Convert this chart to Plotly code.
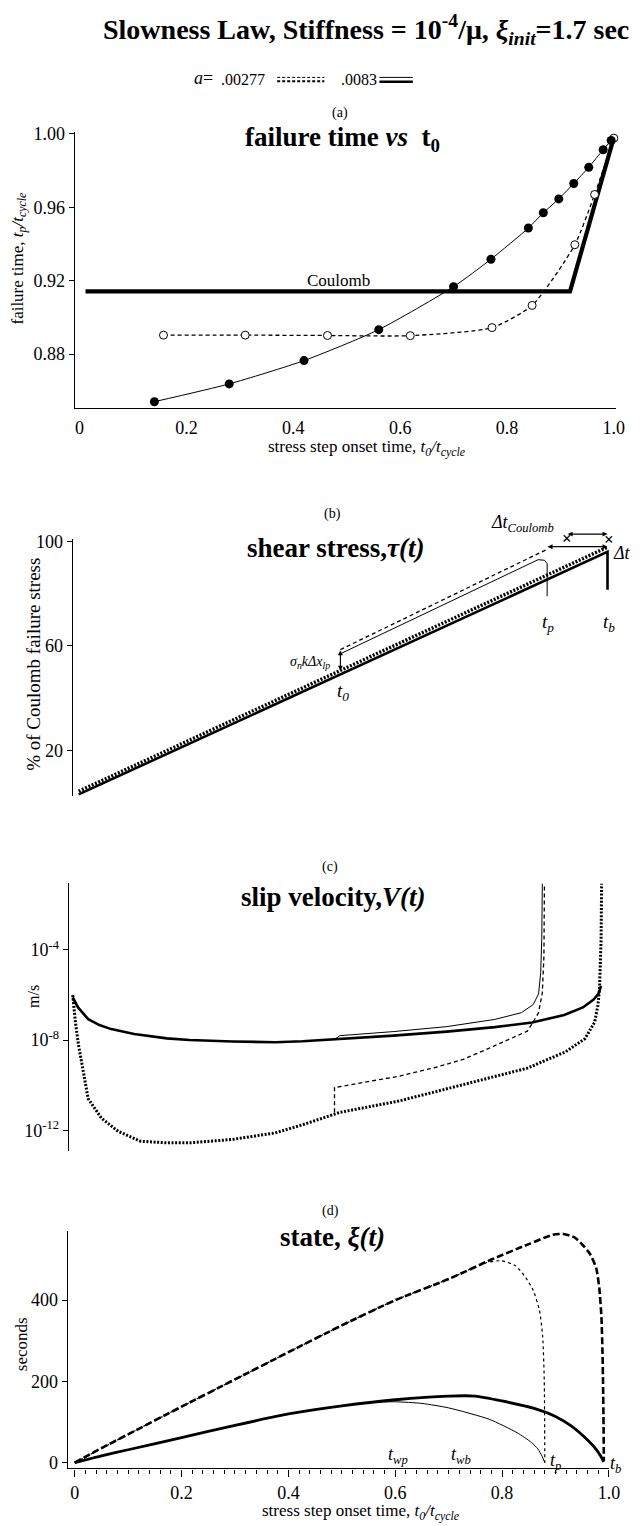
import plotly.graph_objects as go

W, H = 644, 1526
SERIF = "Liberation Serif"

# ---------------- (a) failure time vs stress-step onset time ----------------
fast_t0 = [0.14, 0.28, 0.42, 0.56, 0.70, 0.77, 0.84, 0.868, 0.897, 0.925, 0.953, 0.98, 0.995]
fast_tp = [0.854, 0.8637, 0.8764, 0.8933, 0.9167, 0.9317, 0.9487, 0.957, 0.9646, 0.973, 0.9818, 0.9914, 0.9964]
slow_t0 = [0.157, 0.31, 0.464, 0.619, 0.772, 0.847, 0.927, 0.964, 1.0]
slow_tp = [0.8903, 0.8903, 0.8901, 0.8900, 0.8944, 0.9065, 0.9396, 0.967, 0.9977]
coul_t0 = [0.011, 0.918, 1.0]
coul_tp = [0.9142, 0.9142, 0.998]
a_ticks = [0, 0.2, 0.4, 0.6, 0.8, 1.0]
a_ticktext = ["0", "0.2", "0.4", "0.6", "0.8", "1.0"]
a_yticks = [0.88, 0.92, 0.96, 1.00]
a_yticktext = ["0.88", "0.92", "0.96", "1.00"]

# ---------------- (b) shear stress, % of Coulomb failure stress ----------------
tau_bg_fast_t = [0.0, 0.99, 0.99]
tau_bg_fast = [3.2, 96.0, 81.5]
tau_bg_slow_t = [0.0, 0.99]
tau_bg_slow = [4.4, 97.8]
tau_step_slow_t = [0.49, 0.877]
tau_step_slow = [58.6, 97.0]
tau_step_fast_t = [0.49, 0.86, 0.872, 0.877, 0.877]
tau_step_fast = [57.0, 93.0, 92.8, 91.5, 79.0]
b_yticks = [20, 60, 100]
# Coulomb-failure crossings marked above the 100 % line, and the two lead times
coulomb_mark_t = [0.914, 0.992]
coulomb_mark_tau = [101.3, 100.6]
dt_coulomb = [0.914, 0.99]
dt_rate_state = [0.877, 0.99]

# ---------------- (c) slip velocity, log10(m/s) ----------------
v_bg_fast_t = [0.0, 0.01, 0.029, 0.05, 0.072, 0.115, 0.176, 0.219, 0.299, 0.379, 0.43, 0.5,
               0.6, 0.7, 0.79, 0.86, 0.92, 0.955, 0.975, 0.984, 0.989]
v_bg_fast_exp = [-6.1, -6.55, -7.07, -7.33, -7.51, -7.73, -7.92, -7.99, -8.06, -8.09, -8.05, -7.96,
                 -7.8, -7.62, -7.42, -7.22, -6.88, -6.55, -6.2, -5.95, -5.6]
v_step_fast_t = [0.49, 0.5, 0.6, 0.7, 0.79, 0.84, 0.862, 0.872, 0.876, 0.878, 0.879]
v_step_fast_exp = [-7.97, -7.8, -7.62, -7.4, -7.08, -6.78, -6.42, -5.95, -5.0, -3.5, -1.06]
v_bg_slow_t = [0.0, 0.005, 0.011, 0.02, 0.029, 0.054, 0.085, 0.127, 0.176, 0.219, 0.299, 0.379,
               0.43, 0.5, 0.61, 0.731, 0.851, 0.923, 0.959, 0.977, 0.983, 0.986, 0.989, 0.99]
v_bg_slow_exp = [-6.0, -7.2, -8.24, -9.41, -10.6, -11.46, -12.04, -12.48, -12.55, -12.55, -12.4, -12.11,
                 -11.75, -11.2, -10.7, -9.97, -9.24, -8.51, -7.93, -7.2, -6.48, -5.75, -3.56, -1.06]
v_step_slow_t = [0.49, 0.49, 0.55, 0.61, 0.68, 0.731, 0.78, 0.821, 0.851, 0.863, 0.872, 0.879, 0.882, 0.883]
v_step_slow_exp = [-11.2, -10.1, -9.85, -9.6, -9.2, -8.85, -8.35, -7.93, -7.6, -7.15, -6.78, -5.9, -4.3, -1.06]
c_yticks_exp = [-12, -8, -4]

# ---------------- (d) state, seconds ----------------
xi_bg_slow_t = [0, 0.05, 0.1, 0.2, 0.3, 0.4, 0.5, 0.6, 0.7, 0.78, 0.85, 0.895, 0.915, 0.935, 0.95,
                0.964, 0.976, 0.982, 0.986, 0.988, 0.989, 0.99, 0.9905]
xi_bg_slow = [0, 36, 70, 138, 205, 272, 338, 400, 452, 500, 538, 561, 563, 555, 537,
              515, 480, 430, 358, 270, 196, 90, 5]
xi_step_slow_t = [0, 0.1, 0.2, 0.3, 0.4, 0.5, 0.6, 0.7, 0.74, 0.77, 0.798, 0.825, 0.844, 0.858,
                  0.87, 0.876, 0.879, 0.88]
xi_step_slow = [0, 70, 138, 205, 272, 338, 400, 452, 476, 492, 497, 485, 456, 425,
                375, 310, 200, 0]
xi_bg_fast_t = [0, 0.05, 0.1, 0.2, 0.3, 0.4, 0.5, 0.6, 0.7, 0.75, 0.8, 0.86, 0.9, 0.93, 0.96,
                0.975, 0.984, 0.988, 0.99]
xi_bg_fast = [0, 17, 32, 62, 92, 120, 140, 155, 164, 164, 152, 134, 114, 90, 56,
              35, 18, 8, 2]
xi_step_fast_t = [0.5, 0.55, 0.6, 0.65, 0.7, 0.776, 0.828, 0.855, 0.867, 0.875, 0.88]
xi_step_fast = [140, 148, 150, 146, 135, 107, 74, 50, 34, 16, 0]
d_yticks = [0, 200, 400]


def px(x):
    return x / W


def py(y):
    return 1 - y / H


def ydom(top, bottom):
    return [py(bottom), py(top)]


PX_PER_UNIT = 543.5


def xspec(axis_px, zero_px, right_val):
    """Domain/range for a time axis whose spine sits at axis_px and t=0 at zero_px."""
    left_val = (axis_px - zero_px) / PX_PER_UNIT
    right_px = zero_px + right_val * PX_PER_UNIT
    return dict(domain=[px(axis_px), px(right_px)], range=[left_val, right_val])


# panel (b) geometry, used to place marks drawn above its 100 % limit
B_ZERO_PX, B_TOP, B_BOTTOM, B_RANGE = 80, 535.9, 795, (2.5, 100.8)


def b_px(t, tau):
    yscale = (B_BOTTOM - B_TOP) / (B_RANGE[1] - B_RANGE[0])
    return B_ZERO_PX + t * PX_PER_UNIT, B_BOTTOM - (tau - B_RANGE[0]) * yscale


fig = go.Figure()
BLACK = "black"


def line(x, y, xa, ya, width=1.0, dash="solid", shape="linear"):
    fig.add_trace(go.Scatter(x=x, y=y, xaxis=xa, yaxis=ya, mode="lines",
                             line=dict(color=BLACK, width=width, dash=dash, shape=shape,
                                       smoothing=0.6),
                             showlegend=False, hoverinfo="skip"))


def pow10(vals):
    return [10 ** v for v in vals]


# (a)
line(coul_t0, coul_tp, "x", "y", width=4.2)
fig.add_trace(go.Scatter(x=slow_t0, y=slow_tp, xaxis="x", yaxis="y", mode="lines+markers",
                         line=dict(color=BLACK, width=1.3, dash="4px,3px", shape="spline", smoothing=0.6),
                         marker=dict(symbol="circle", size=8, color="white",
                                     line=dict(color=BLACK, width=1)),
                         cliponaxis=False, showlegend=False, hoverinfo="skip"))
fig.add_trace(go.Scatter(x=fast_t0, y=fast_tp, xaxis="x", yaxis="y", mode="lines+markers",
                         line=dict(color=BLACK, width=1, shape="spline", smoothing=0.6),
                         marker=dict(symbol="circle", size=9, color=BLACK),
                         cliponaxis=False, showlegend=False, hoverinfo="skip"))

# (b)
line(tau_bg_slow_t, tau_bg_slow, "x2", "y2", width=3.4, dash="2px,1.6px")
line(tau_bg_fast_t, tau_bg_fast, "x2", "y2", width=2.6)
line(tau_step_slow_t, tau_step_slow, "x2", "y2", width=1.3, dash="4px,3px")
line(tau_step_fast_t, tau_step_fast, "x2", "y2", width=1.0)

# (c)
line(v_bg_slow_t, pow10(v_bg_slow_exp), "x3", "y3", width=3.0, dash="2px,1.6px")
line(v_step_slow_t, pow10(v_step_slow_exp), "x3", "y3", width=1.3, dash="4px,3px")
line(v_bg_fast_t, pow10(v_bg_fast_exp), "x3", "y3", width=2.6)
line(v_step_fast_t, pow10(v_step_fast_exp), "x3", "y3", width=1.0)

# (d)
line(xi_bg_slow_t, xi_bg_slow, "x4", "y4", width=2.6, dash="7px,3px", shape="spline")
line(xi_step_slow_t, xi_step_slow, "x4", "y4", width=1.2, dash="3px,3px", shape="spline")
line(xi_bg_fast_t, xi_bg_fast, "x4", "y4", width=2.8, shape="spline")
line(xi_step_fast_t, xi_step_fast, "x4", "y4", width=1.0, shape="spline")

tickfont = dict(family=SERIF, size=18, color=BLACK)
base_x = dict(showgrid=False, zeroline=False, fixedrange=True)
base_y = dict(showgrid=False, zeroline=False, showline=True, linecolor=BLACK, linewidth=1.3,
              ticks="outside", ticklen=5, tickcolor=BLACK, tickwidth=1.2, tickfont=tickfont,
              fixedrange=True)

fig.update_layout(
    width=W, height=H, margin=dict(l=0, r=0, t=0, b=0),
    paper_bgcolor="white", plot_bgcolor="white",
    font=dict(family=SERIF, color=BLACK),
    xaxis=dict(**base_x, **xspec(76, 81, 1.004), anchor="y", showline=True, linecolor=BLACK,
               linewidth=1.3, tickvals=a_ticks, ticktext=a_ticktext, ticks="", tickfont=tickfont,
               ticklabelstandoff=4),
    yaxis=dict(**base_y, domain=ydom(125, 403), range=[0.8508, 1.0011], anchor="x",
               tickvals=a_yticks, ticktext=a_yticktext),
    xaxis2=dict(**base_x, **xspec(74, B_ZERO_PX, 1.0), anchor="y2", visible=False),
    yaxis2=dict(**base_y, domain=ydom(B_TOP, B_BOTTOM), range=list(B_RANGE), anchor="x2",
                tickvals=b_yticks, ticktext=[str(v) for v in b_yticks]),
    xaxis3=dict(**base_x, **xspec(70, 74, 1.0), anchor="y3", visible=False),
    yaxis3=dict(**base_y, domain=ydom(883, 1153), type="log", range=[-12.92, -1.055], anchor="x3",
                tickvals=pow10(c_yticks_exp),
                ticktext=["10<sup>%d</sup>" % e for e in c_yticks_exp]),
    xaxis4=dict(**base_x, **xspec(69, 76, 1.0), anchor="y4", showline=True, linecolor=BLACK,
                linewidth=1.3, tickvals=a_ticks, ticktext=a_ticktext, ticks="outside", ticklen=7,
                tickcolor=BLACK, tickwidth=1.2, tickfont=tickfont, ticklabelstandoff=1,
                minor=dict(dtick=0.02, tick0=0, ticks="outside", ticklen=4,
                           tickcolor=BLACK, tickwidth=1)),
    yaxis4=dict(**base_y, domain=ydom(1233.6, 1473), range=[-14, 570], anchor="x4",
                tickvals=d_yticks, ticktext=[str(v) for v in d_yticks]),
)

ann = []


def text_px(x, y, text, size, xanchor="center", angle=0, bold=False):
    if bold:
        text = "<b>" + text + "</b>"
    ann.append(dict(x=px(x), y=py(y), xref="paper", yref="paper", text=text, showarrow=False,
                    xanchor=xanchor, yanchor="middle", textangle=angle,
                    font=dict(family=SERIF, size=size, color=BLACK)))


def text_data(xa, ya, x, y, text, size, xanchor="center", yanchor="middle"):
    ann.append(dict(x=x, y=y, xref=xa, yref=ya, text=text, showarrow=False,
                    xanchor=xanchor, yanchor=yanchor,
                    font=dict(family=SERIF, size=size, color=BLACK)))


def arrow(xa, ya, x0, y0, x1, y1):
    ann.append(dict(x=x1, y=y1, ax=x0, ay=y0, xref=xa, yref=ya, axref=xa, ayref=ya,
                    text="", showarrow=True, arrowhead=2, arrowside="end+start",
                    arrowsize=0.9, arrowwidth=1.1, arrowcolor=BLACK))


def b_arrow_h(t0, t1, tau):
    """Horizontal double arrow in panel (b), placed in page pixels so it can sit above 100 %."""
    x0, y = b_px(t0, tau)
    x1, _ = b_px(t1, tau)
    ann.append(dict(x=px(x1), y=py(y), xref="paper", yref="paper", ax=-(x1 - x0), ay=0,
                    text="", showarrow=True, arrowhead=2, arrowside="end+start",
                    arrowsize=0.9, arrowwidth=1.1, arrowcolor=BLACK))


def b_text(t, tau, text, size, xanchor="center"):
    x, y = b_px(t, tau)
    text_px(x, y, text, size, xanchor=xanchor)


# headline and key
text_px(372, 22, "Slowness Law, Stiffness = 10<sup>-4</sup>/μ, <i>ξ<sub>init</sub></i>=1.7 sec", 28, bold=True)
text_px(219, 71, "<i>a</i>=", 18, xanchor="right")
text_px(223, 72, ".00277", 16, xanchor="left")
text_px(345, 72, ".0083", 16, xanchor="left")
shapes = [
    dict(type="line", xref="paper", yref="paper", x0=px(282), x1=px(330), y0=py(70), y1=py(70),
         line=dict(color=BLACK, width=1, dash="3px,2px")),
    dict(type="line", xref="paper", yref="paper", x0=px(282), x1=px(330), y0=py(74), y1=py(74),
         line=dict(color=BLACK, width=2, dash="3px,2px")),
    dict(type="line", xref="paper", yref="paper", x0=px(386), x1=px(420), y0=py(70), y1=py(70),
         line=dict(color=BLACK, width=1)),
    dict(type="line", xref="paper", yref="paper", x0=px(386), x1=px(420), y0=py(74.5), y1=py(74.5),
         line=dict(color=BLACK, width=2.5)),
]

# (a)
text_px(346, 106, "(a)", 14)
text_px(348, 132, "failure time <i>vs</i>  t<sub>0</sub>", 27, bold=True)
text_data("x", "y", 0.484, 0.92, "Coulomb", 17)
text_px(19, 252, "failure time, <i>t<sub>p</sub>/t<sub>cycle</sub></i>", 17, angle=-90)
text_px(373, 444, "stress step onset time, <i>t<sub>0</sub>/t<sub>cycle</sub></i>", 17)

# (b)
text_px(338, 510, "(b)", 14)
text_px(341, 545, "shear stress,<i>τ(t)</i>", 27, bold=True)
text_px(34, 662, "% of Coulomb failure stress", 19, angle=-90)
arrow("x2", "y2", 0.49, 50.0, 0.49, 58.3)
b_arrow_h(dt_rate_state[0], dt_rate_state[1], 98.0)
b_arrow_h(dt_coulomb[0], dt_coulomb[1], 102.8)
for t, tau in zip(coulomb_mark_t, coulomb_mark_tau):
    b_text(t, tau, "<b>×</b>", 17)
text_data("x2", "y2", 0.475, 53.7, "<i>σ<sub>n</sub>kΔx<sub>lp</sub></i>", 14, xanchor="right")
text_data("x2", "y2", 0.494, 42.4, "<i>t<sub>0</sub></i>", 19)
text_data("x2", "y2", 0.879, 68.9, "<i>t<sub>p</sub></i>", 19)
text_data("x2", "y2", 0.992, 68.9, "<i>t<sub>b</sub></i>", 19)
b_text(0.83, 107.0, "<i>Δt<sub>Coulomb</sub></i>", 18)
text_data("x2", "y2", 0.996, 95.5, "<i>Δt</i>", 18, xanchor="left")

# (c)
text_px(336, 866, "(c)", 14)
text_px(339, 897, "slip velocity,<i>V(t)</i>", 27, bold=True)
text_px(34, 997, "m/s", 16, angle=-90)

# (d)
text_px(336, 1213, "(d)", 14)
text_px(338, 1240, "state, <i>ξ(t)</i>", 27, bold=True)
text_px(22, 1348, "seconds", 17, angle=-90)
text_px(367, 1517, "stress step onset time, <i>t<sub>0</sub>/t<sub>cycle</sub></i>", 17)
text_data("x4", "y4", 0.605, 19, "<i>t<sub>wp</sub></i>", 18)
text_data("x4", "y4", 0.723, 19, "<i>t<sub>wb</sub></i>", 18)
text_data("x4", "y4", 0.886, 2, "<i>t<sub>p</sub></i>", 18, xanchor="left")
text_data("x4", "y4", 0.998, -5, "<i>t<sub>b</sub></i>", 18, xanchor="left")

fig.update_layout(annotations=ann, shapes=shapes)
fig.write_html("out.html")
